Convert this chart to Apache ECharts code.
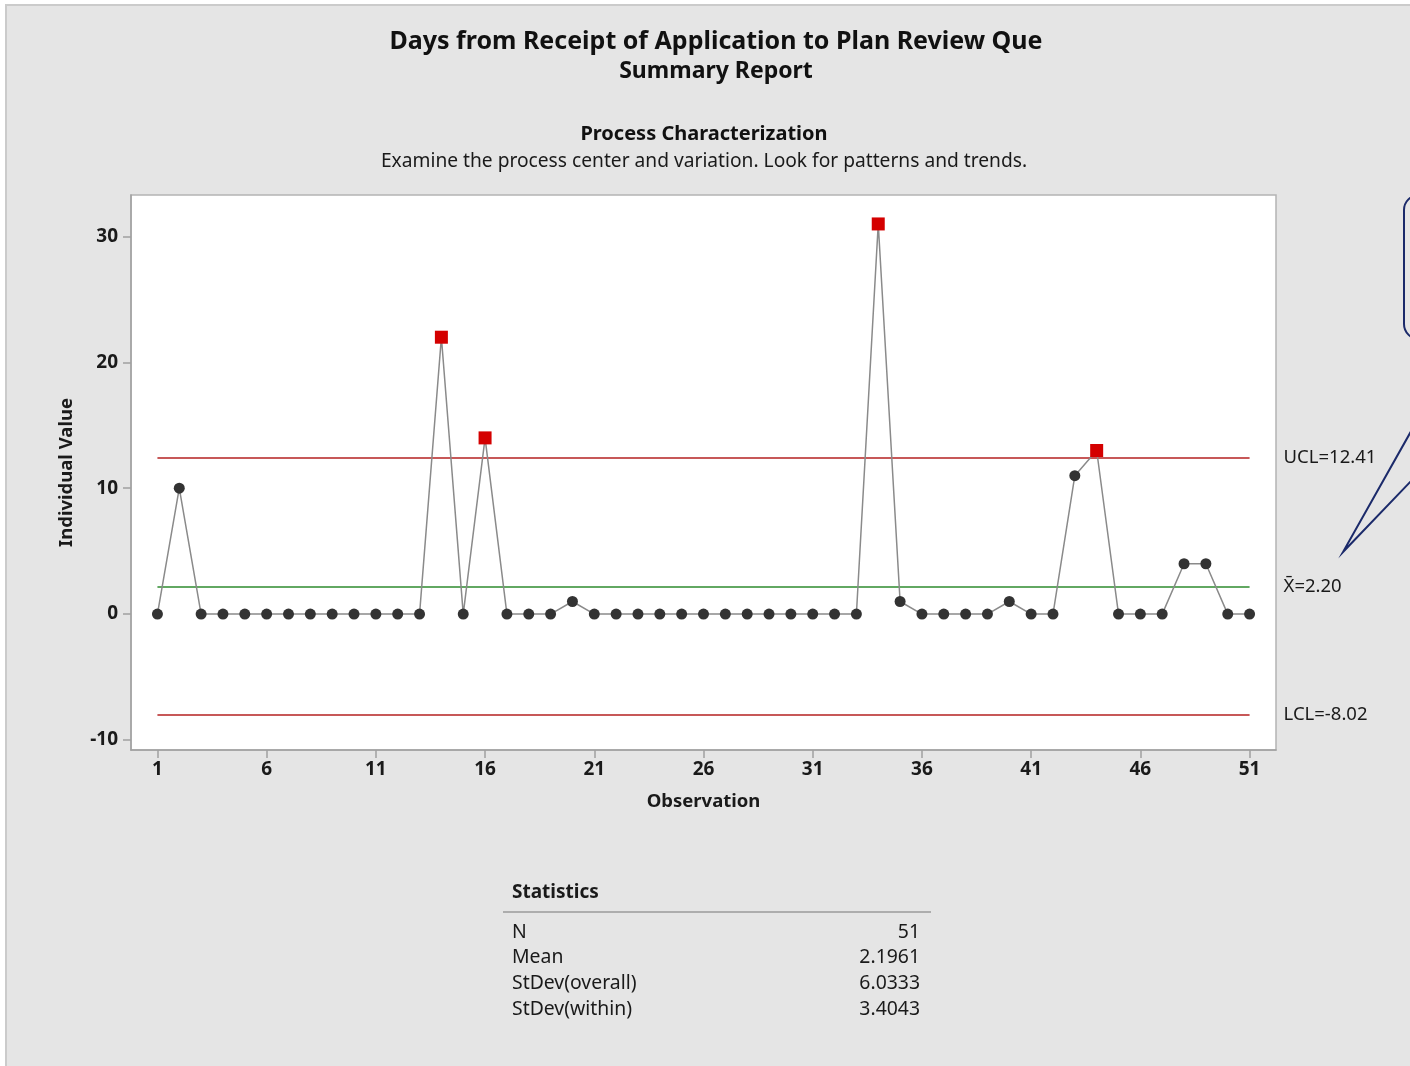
<!DOCTYPE html>
<html>
<head>
<meta charset="utf-8">
<title>Days from Receipt of Application to Plan Review Que</title>
<script src="https://cdn.jsdelivr.net/npm/echarts@6/dist/echarts.min.js"></script>
<style>
  html, body { margin: 0; padding: 0; width: 1410px; height: 1066px; overflow: hidden; background: #ffffff; }
  #panel { position: absolute; left: 5px; top: 4px; width: 1500px; height: 1200px; background: #e5e5e5; border: 2px solid #cbcbcb; box-sizing: border-box; }
  #chart { position: absolute; left: 0; top: 0; width: 1410px; height: 1066px; }
</style>
</head>
<body>
<div id="panel"></div>
<div id="chart"></div>
<script>
// Individual values, one per observation (days from receipt to plan review queue)
const observations = [1, 2, 3, 4, 5, 6, 7, 8, 9, 10, 11, 12, 13, 14, 15, 16, 17, 18, 19, 20,
  21, 22, 23, 24, 25, 26, 27, 28, 29, 30, 31, 32, 33, 34, 35, 36, 37, 38, 39, 40,
  41, 42, 43, 44, 45, 46, 47, 48, 49, 50, 51];
const dayValues = [0, 10, 0, 0, 0, 0, 0, 0, 0, 0, 0, 0, 0, 22, 0, 14, 0, 0, 0, 1,
  0, 0, 0, 0, 0, 0, 0, 0, 0, 0, 0, 0, 0, 31, 1, 0, 0, 0, 0, 1,
  0, 0, 11, 13, 0, 0, 0, 4, 4, 0, 0];

// Control limits of the I chart
const UCL = 12.41;
const CENTER = 2.1961;
const LCL = -8.02;

// Axis tick values
const xTicks = [1, 6, 11, 16, 21, 26, 31, 36, 41, 46, 51];
const yTicks = [-10, 0, 10, 20, 30];

// Summary statistics table
const statLabels = ['N', 'Mean', 'StDev(overall)', 'StDev(within)'];
const statValues = ['51', '2.1961', '6.0333', '3.4043'];

const FONT = '"Noto Sans", "Open Sans", sans-serif';
const TEXT = '#1a1a1a';

// Points beyond the control limits are drawn as red squares
const pointData = observations.map((obs, i) => {
  const v = dayValues[i];
  const out = v > UCL || v < LCL;
  return out
    ? { value: [obs, v], symbol: 'rect', symbolSize: 13, itemStyle: { color: '#d40000' } }
    : { value: [obs, v], symbol: 'circle', symbolSize: 11, itemStyle: { color: '#333333' } };
});

const first = observations[0];
const last = observations[observations.length - 1];

function limitLine(value, color, text) {
  return [
    { coord: [first, value], lineStyle: { color: color, width: 1.5, type: 'solid' },
      label: { show: true, position: 'end', distance: 34, formatter: text,
               color: TEXT, fontFamily: FONT, fontSize: 18.5 } },
    { coord: [last, value] }
  ];
}

// Statistics block
const statGraphics = [
  { type: 'text', x: 512, y: 893, style: { text: 'Statistics', font: 'bold 19px ' + FONT, fill: TEXT, textAlign: 'left', textVerticalAlign: 'middle' } },
  { type: 'line', shape: { x1: 503, y1: 912, x2: 931, y2: 912 }, style: { stroke: '#9a9a9a', lineWidth: 1.5 } }
];
statLabels.forEach((lab, i) => {
  const y = 932 + i * 25.7;
  statGraphics.push({ type: 'text', x: 512, y: y, style: { text: lab, font: '19.4px ' + FONT, fill: TEXT, textAlign: 'left', textVerticalAlign: 'middle' } });
  statGraphics.push({ type: 'text', x: 920, y: y, style: { text: statValues[i], font: '19.4px ' + FONT, fill: TEXT, textAlign: 'right', textVerticalAlign: 'middle' } });
});

const chart = echarts.init(document.getElementById('chart'), null, { renderer: 'canvas' });

chart.setOption({
  backgroundColor: 'transparent',
  animation: false,
  graphic: [
    { type: 'text', x: 716, y: 42, style: { text: 'Days from Receipt of Application to Plan Review Que', font: 'bold 25px ' + FONT, fill: '#111', textAlign: 'center', textVerticalAlign: 'middle' } },
    { type: 'text', x: 716, y: 71, style: { text: 'Summary Report', font: 'bold 23px ' + FONT, fill: '#111', textAlign: 'center', textVerticalAlign: 'middle' } },
    { type: 'text', x: 704, y: 134, style: { text: 'Process Characterization', font: 'bold 20px ' + FONT, fill: '#111', textAlign: 'center', textVerticalAlign: 'middle' } },
    { type: 'text', x: 704, y: 162, style: { text: 'Examine the process center and variation. Look for patterns and trends.', font: '19.2px ' + FONT, fill: TEXT, textAlign: 'center', textVerticalAlign: 'middle' } },
    // callout balloon on the right margin
    { type: 'rect', shape: { x: 1404, y: 195, width: 120, height: 144, r: 15 }, style: { fill: 'none', stroke: '#1b2a6a', lineWidth: 2 } },
    { type: 'polyline', shape: { points: [[1414, 426], [1343, 552], [1414, 478]] }, style: { fill: 'none', stroke: '#1b2a6a', lineWidth: 2 } }
  ].concat(statGraphics),
  grid: {
    left: 131, right: 134, top: 195, bottom: 316,
    show: true, backgroundColor: '#ffffff', borderColor: '#b4b4b4', borderWidth: 1.5
  },
  xAxis: {
    type: 'value', min: -0.21, max: 52.21,
    name: 'Observation', nameLocation: 'middle', nameGap: 42,
    nameTextStyle: { fontFamily: FONT, fontSize: 18.5, fontWeight: 'bold', color: TEXT },
    splitLine: { show: false },
    axisLine: { show: true, onZero: false, lineStyle: { color: '#a0a0a0', width: 1.5 } },
    axisTick: { show: true, length: 8, customValues: xTicks, lineStyle: { color: '#a0a0a0', width: 1.5 } },
    axisLabel: { customValues: xTicks, margin: 10, fontFamily: FONT, fontSize: 19, fontWeight: 'bold', color: TEXT }
  },
  yAxis: {
    type: 'value', min: -10.8, max: 33.3,
    name: 'Individual Value', nameLocation: 'middle', nameGap: 55,
    nameTextStyle: { fontFamily: FONT, fontSize: 18.5, fontWeight: 'bold', color: TEXT },
    splitLine: { show: false },
    axisLine: { show: true, onZero: false, lineStyle: { color: '#a0a0a0', width: 1.5 } },
    axisTick: { show: true, length: 8, customValues: yTicks, lineStyle: { color: '#a0a0a0', width: 1.5 } },
    axisLabel: { customValues: yTicks, margin: 13, fontFamily: FONT, fontSize: 19, fontWeight: 'bold', color: TEXT }
  },
  series: [{
    type: 'line',
    data: pointData,
    showAllSymbol: true,
    lineStyle: { color: '#8a8a8a', width: 1.5 },
    emphasis: { disabled: true },
    z: 3,
    markLine: {
      silent: true,
      symbol: 'none',
      z: 2,
      data: [
        limitLine(UCL, '#b52020', 'UCL=' + UCL.toFixed(2)),
        limitLine(CENTER, '#2e8b2e', 'X\u0304=' + CENTER.toFixed(2)),
        limitLine(LCL, '#b52020', 'LCL=' + LCL.toFixed(2))
      ]
    }
  }]
});
</script>
</body>
</html>
